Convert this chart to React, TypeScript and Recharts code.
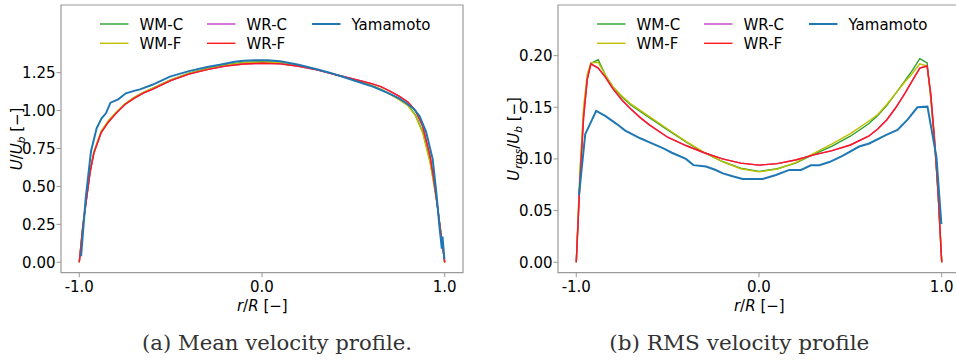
import React from 'react'
import { LineChart, Line, XAxis, YAxis, ReferenceArea } from 'recharts'

const FONT = '"DejaVu Sans", sans-serif'
const SPINE = '#9a9a9a'
const FS = 15

const seriesNames = ['WM-C', 'WM-F', 'WR-C', 'WR-F', 'Yamamoto']
const seriesColors = ['#2ca02c', '#bfbf00', '#c040c8', '#ff1a1a', '#1f77b4']
const seriesWidths = [1.4, 1.4, 1.4, 1.4, 2]

const xTicks = [-1, 0, 1]
const meanTicks = [0, 0.25, 0.5, 0.75, 1, 1.25]
const rmsTicks = [0, 0.05, 0.1, 0.15, 0.2]

// radial positions of the LES profiles
const rSim = [
  -1, -0.98, -0.96, -0.94, -0.92, -0.88, -0.84, -0.8, -0.75, -0.7, -0.65, -0.6,
  -0.5, -0.4, -0.3, -0.2, -0.1, 0, 0.1, 0.2, 0.3, 0.4, 0.5, 0.6, 0.65, 0.7,
  0.75, 0.8, 0.84, 0.88, 0.92, 0.94, 0.96, 0.98, 1,
]

// mean velocity U/Ub
const meanWMC = [
  0, 0.25, 0.43, 0.6, 0.725, 0.86, 0.93, 0.985, 1.043, 1.085, 1.118, 1.146,
  1.203, 1.246, 1.278, 1.302, 1.317, 1.322, 1.317, 1.298, 1.27, 1.237, 1.202, 1.166, 1.142, 1.11,
  1.075, 1.035, 0.97, 0.86, 0.665, 0.525, 0.37, 0.19, 0,
]
const meanWMF = [
  0, 0.25, 0.43, 0.61, 0.73, 0.865, 0.935, 0.988, 1.045, 1.087, 1.12, 1.147,
  1.203, 1.245, 1.277, 1.3, 1.315, 1.32, 1.315, 1.297, 1.27, 1.238, 1.203, 1.165, 1.14, 1.108,
  1.072, 1.03, 0.965, 0.85, 0.655, 0.52, 0.37, 0.19, 0,
]
const meanWRC = [
  0, 0.24, 0.42, 0.6, 0.72, 0.855, 0.925, 0.98, 1.04, 1.08, 1.115, 1.14,
  1.198, 1.24, 1.27, 1.293, 1.307, 1.312, 1.308, 1.292, 1.268, 1.238, 1.208, 1.178, 1.158, 1.128,
  1.095, 1.055, 1.0, 0.895, 0.7, 0.55, 0.37, 0.18, 0,
]
const meanWRF = [
  0, 0.24, 0.42, 0.6, 0.72, 0.855, 0.925, 0.98, 1.04, 1.08, 1.115, 1.14,
  1.198, 1.24, 1.27, 1.293, 1.307, 1.312, 1.308, 1.292, 1.268, 1.238, 1.208, 1.178, 1.158, 1.128,
  1.095, 1.055, 1.0, 0.895, 0.7, 0.55, 0.37, 0.18, 0,
]

const rYamMean = [
  -0.99, -0.965, -0.936, -0.905, -0.878, -0.854, -0.829, -0.787, -0.745, -0.7, -0.668, -0.6,
  -0.504, -0.4, -0.3, -0.231, -0.15, -0.1, -0.03, 0.03, 0.1, 0.2, 0.3, 0.37, 0.45, 0.55,
  0.607, 0.7, 0.75, 0.789, 0.83, 0.862, 0.898, 0.934, 0.955, 0.971, 0.978, 0.984, 0.988, 0.994, 0.998,
]
const meanYam = [
  0.04, 0.42, 0.73, 0.883, 0.949, 0.982, 1.052, 1.074, 1.114, 1.13, 1.14, 1.17,
  1.224, 1.26, 1.287, 1.302, 1.322, 1.328, 1.332, 1.332, 1.325, 1.302, 1.272, 1.25, 1.22, 1.18,
  1.158, 1.11, 1.08, 1.05, 1.012, 0.965, 0.86, 0.68, 0.45, 0.235, 0.16, 0.09, 0.17, 0.08, 0.02,
]

// rms velocity Urms/Ub
const rmsWMC = [
  0, 0.085, 0.145, 0.178, 0.1925, 0.196, 0.181, 0.17, 0.16, 0.152, 0.146, 0.14,
  0.128, 0.1165, 0.106, 0.0975, 0.091, 0.088, 0.0905, 0.096, 0.1045, 0.1125, 0.122, 0.134, 0.142, 0.152,
  0.164, 0.176, 0.186, 0.197, 0.193, 0.158, 0.118, 0.066, 0,
]
const rmsWMF = [
  0, 0.088, 0.15, 0.182, 0.193, 0.1935, 0.181, 0.17, 0.161, 0.153, 0.147, 0.141,
  0.129, 0.117, 0.1065, 0.0975, 0.0905, 0.0875, 0.0902, 0.0965, 0.1055, 0.1145, 0.1245, 0.1365, 0.143, 0.153,
  0.164, 0.175, 0.183, 0.192, 0.19, 0.16, 0.12, 0.068, 0,
]
const rmsWRC = [
  0, 0.078, 0.14, 0.177, 0.192, 0.188, 0.179, 0.168, 0.157, 0.148, 0.14, 0.133,
  0.121, 0.113, 0.106, 0.1, 0.096, 0.094, 0.0955, 0.099, 0.104, 0.108, 0.1135, 0.122, 0.129, 0.138,
  0.15, 0.164, 0.176, 0.188, 0.19, 0.163, 0.12, 0.068, 0,
]
const rmsWRF = [
  0, 0.078, 0.14, 0.177, 0.192, 0.188, 0.179, 0.168, 0.157, 0.148, 0.14, 0.133,
  0.121, 0.113, 0.106, 0.1, 0.096, 0.094, 0.0955, 0.099, 0.104, 0.108, 0.1135, 0.122, 0.129, 0.138,
  0.15, 0.164, 0.176, 0.188, 0.19, 0.163, 0.12, 0.068, 0,
]

const rYamRms = [
  -0.985, -0.951, -0.891, -0.842, -0.78, -0.732, -0.65, -0.586, -0.52, -0.477, -0.4, -0.359,
  -0.29, -0.24, -0.198, -0.14, -0.089, 0.02, 0.093, 0.166, 0.23, 0.284, 0.33, 0.385,
  0.457, 0.548, 0.603, 0.694, 0.758, 0.813, 0.867, 0.922, 0.971, 0.998,
]
const rmsYam = [
  0.065, 0.124, 0.1465, 0.1416, 0.134, 0.1274, 0.12, 0.115, 0.11, 0.106, 0.1, 0.094,
  0.0926, 0.0895, 0.086, 0.083, 0.0806, 0.0806, 0.0845, 0.0894, 0.0894, 0.0939, 0.0939, 0.097,
  0.103, 0.112, 0.115, 0.123, 0.128, 0.138, 0.15, 0.1506, 0.102, 0.037,
]

const toPoints = (r: number[], v: number[]) => r.map((x, i) => ({ r: x, v: v[i] }))

const meanSeries = [
  toPoints(rSim, meanWMC),
  toPoints(rSim, meanWMF),
  toPoints(rSim, meanWRC),
  toPoints(rSim, meanWRF),
  toPoints(rYamMean, meanYam),
]
const rmsSeries = [
  toPoints(rSim, rmsWMC),
  toPoints(rSim, rmsWMF),
  toPoints(rSim, rmsWRC),
  toPoints(rSim, rmsWRF),
  toPoints(rYamRms, rmsYam),
]

// legend grid: [column, row] for each series
const legendSlots = [[0, 0], [0, 1], [1, 0], [1, 1], [2, 0]]
const legendCols = [39, 146, 251]
const legendRows = [24, 43.3]

const PLOT_LEFT = 61

const Panel = ({ left, series, yDomain, yTicks, yLabel, caption, captionX, captionWidth }) => (
  <div style={{ position: 'absolute', left, top: 0, width: 470, height: 361 }}>
    <LineChart width={470} height={300} margin={{ top: 5, right: 7, bottom: 0, left: 0 }} style={{ fontFamily: FONT }}>
      <XAxis
        type="number"
        dataKey="r"
        domain={[-1.1, 1.1]}
        ticks={xTicks}
        tickFormatter={(v: number) => v.toFixed(1)}
        axisLine={false}
        tickLine={{ stroke: SPINE }}
        tickSize={4.5}
        tickMargin={4.5}
        height={27.3}
        tick={{ fill: '#000', fontSize: FS, fontFamily: FONT }}
        allowDataOverflow
      />
      <YAxis
        type="number"
        domain={yDomain}
        ticks={yTicks}
        tickFormatter={(v: number) => v.toFixed(2)}
        axisLine={false}
        tickLine={{ stroke: SPINE }}
        tickSize={4.5}
        tickMargin={1}
        width={PLOT_LEFT}
        tick={{ fill: '#000', fontSize: FS, fontFamily: FONT }}
        allowDataOverflow
      />
      <ReferenceArea x1={-1.1} x2={1.1} y1={yDomain[0]} y2={yDomain[1]} fill="none" stroke={SPINE} strokeWidth={1.2} />
      {series.map((data, i) => (
        <Line
          key={seriesNames[i]}
          data={data}
          dataKey="v"
          type="linear"
          stroke={seriesColors[i]}
          strokeWidth={seriesWidths[i]}
          dot={false}
          activeDot={false}
          isAnimationActive={false}
        />
      ))}
    </LineChart>
    <svg width={470} height={361} style={{ position: 'absolute', left: 0, top: 0, pointerEvents: 'none' }}>
      {seriesNames.map((name, i) => {
        const [c, row] = legendSlots[i]
        const x = PLOT_LEFT + legendCols[c]
        const y = legendRows[row]
        return (
          <g key={name}>
            <line x1={x} x2={x + 28.5} y1={y} y2={y} stroke={seriesColors[i]} strokeWidth={seriesWidths[i]} />
            <text x={x + 39.5} y={y + 5.5} fontSize={FS} fontFamily={FONT} fill="#000">{name}</text>
          </g>
        )
      })}
      <text transform="translate(22, 138.9) rotate(-90)" textAnchor="middle" fontSize={FS} fontFamily={FONT} fill="#000">
        {yLabel}
      </text>
      <text x={262.3} y={311} textAnchor="middle" fontSize={FS} fontFamily={FONT} fill="#000">
        <tspan fontStyle="italic">r</tspan>/<tspan fontStyle="italic">R</tspan> [−]
      </text>
      <text
        x={captionX}
        y={350}
        textAnchor="middle"
        fontSize={20.5}
        fontFamily='"DejaVu Serif", serif'
        fill="#333"
        textLength={captionWidth}
        lengthAdjust="spacingAndGlyphs"
      >
        {caption}
      </text>
    </svg>
  </div>
)

const meanLabel = (
  <>
    <tspan fontStyle="italic">U</tspan>/<tspan fontStyle="italic">U</tspan>
    <tspan fontStyle="italic" fontSize={10.5} dy={3}>b</tspan>
    <tspan dy={-3}> [−]</tspan>
  </>
)
const rmsLabel = (
  <>
    <tspan fontStyle="italic">U</tspan>
    <tspan fontStyle="italic" fontSize={10.5} dy={3} dx={1}>rms</tspan>
    <tspan dy={-3}>/</tspan>
    <tspan fontStyle="italic">U</tspan>
    <tspan fontStyle="italic" fontSize={10.5} dy={3}>b</tspan>
    <tspan dy={-3}> [−]</tspan>
  </>
)

export default function App() {
  return (
    <div style={{ position: 'absolute', left: 0, top: 0, width: 956, height: 361, overflow: 'hidden', background: '#fff' }}>
      <Panel
        left={0}
        series={meanSeries}
        yDomain={[-0.0686, 1.696]}
        yTicks={meanTicks}
        yLabel={meanLabel}
        caption="(a) Mean velocity profile."
        captionX={277}
        captionWidth={270}
      />
      <Panel
        left={496.7}
        series={rmsSeries}
        yDomain={[-0.0101, 0.249]}
        yTicks={rmsTicks}
        yLabel={rmsLabel}
        caption="(b) RMS velocity profile"
        captionX={242.3}
        captionWidth={260}
      />
    </div>
  )
}
